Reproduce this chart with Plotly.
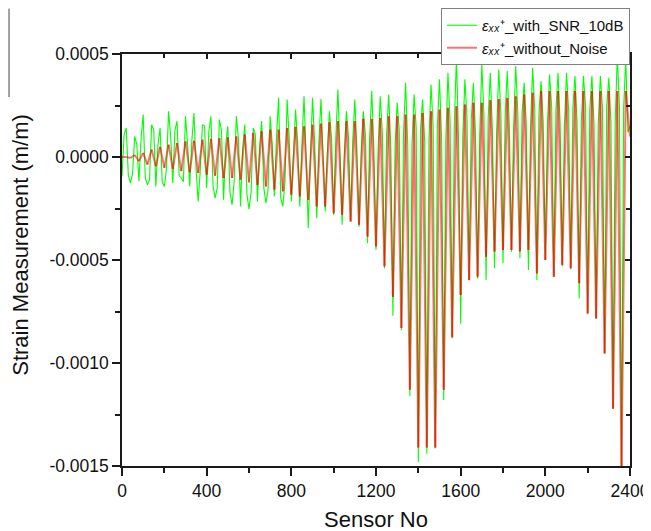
import plotly.graph_objects as go

# ---------------- data ----------------
# Values are in micro-strain (1e-6 m/m); converted to m/m below.
# Noise-free signal: troughs at sensor 40k, peaks at sensor 40k+20
red_trough_ue = [0, -5, -20, -37, -45, -53, -58, -69, -75, -78,
                 -86, -91, -102, -102, -110, -123, -135, -143, -159, -167,
                 -183, -192, -208, -240, -240, -273, -281, -313, -329, -386,
                 -435, -530, -680, -830, -1130, -1410, -1410, -1410, -1130, -875,
                 -670, -597, -581, -484, -459, -451, -451, -459, -451, -565,
                 -500, -581, -524, -540, -613, -760, -784, -954, -1222, -1514,
                 100]
red_peak_ue = [0, 10, 20, 36, 49, 60, 68, 76, 80, 84,
               88, 92, 95, 100, 109, 117, 125, 133, 133, 141,
               146, 149, 157, 162, 169, 174, 174, 174, 185, 185,
               190, 198, 198, 206, 206, 214, 222, 230, 239, 247,
               255, 263, 263, 276, 282, 287, 295, 303, 312, 320,
               320, 320, 320, 320, 320, 320, 320, 320, 320, 320]

# Noisy signal (SNR 10 dB): samples at 40k, 40k+10, 40k+20, 40k+30
green_low_ue = [-94, -127, -118, -135, -143, -143, -127, -102, -143, -216,
                -151, -200, -208, -232, -240, -253, -216, -224, -192, -240,
                -216, -240, -346, -297, -265, -281, -329, -313, -338, -419,
                -450, -540, -770, -840, -1160, -1480, -1440, -1415, -1180, -880,
                -810, -600, -590, -597, -540, -516, -460, -492, -549, -597,
                -500, -581, -530, -545, -687, -760, -784, -954, -1222, -1514,
                150]
green_rise_ue = [110, -80, 90, -110, 60, -60, 130, -120, 80, -60,
                 120, -150, 60, -120, 40, -170, 50, -160, 100, -120,
                 10, 60, -10, 70, 20, 90, 0, 80, 30, 100,
                 40, 110, 50, 120, 60, 130, 80, 150, 90, 160,
                 100, 180, 110, 190, 130, 200, 140, 210, 150, 220,
                 160, 230, 150, 240, 170, 230, 160, 250, 170, 240]
green_high_ue = [141, 100, 206, 157, 141, 222, 174, 198, 214, 157,
                 198, 182, 149, 198, 157, 141, 174, 198, 287, 279,
                 230, 295, 287, 282, 222, 328, 222, 279, 222, 320,
                 295, 303, 263, 360, 303, 279, 352, 377, 409, 482,
                 377, 360, 450, 409, 425, 417, 441, 360, 433, 368,
                 400, 409, 409, 393, 393, 393, 393, 385, 490, 474]
green_fall_ue = [-90, 60, -100, 130, -120, 100, -90, 60, -60, 150,
                 -140, 130, -170, 90, -180, 110, -150, 60, -200, 90,
                 70, 0, 80, 10, 90, 20, 100, 30, 110, 40,
                 120, 50, 130, 60, 140, 80, 150, 90, 170, 100,
                 190, 120, 200, 130, 210, 150, 220, 160, 230, 170,
                 240, 160, 230, 170, 250, 160, 240, 170, 250, 120]

x_tick_vals = [0, 400, 800, 1200, 1600, 2000, 2400]
x_tick_text = ["0", "400", "800", "1200", "1600", "2000", "2400"]
x_minor_vals = [200, 600, 1000, 1400, 1800, 2200]
y_tick_vals = [0.0005, 0.0, -0.0005, -0.0010, -0.0015]
y_tick_text = ["0.0005", "0.0000", "-0.0005", "-0.0010", "-0.0015"]
y_minor_vals = [0.00025, -0.00025, -0.00075, -0.00125]

name_noisy = "<i>εₓₓ</i>⁺_with_SNR_10dB"
name_clean = "<i>εₓₓ</i>⁺_without_Noise"

UE = 1e-6
HALF = 20  # sensors between a trough and the next peak

# ---------------- build series ----------------
green_x = list(range(0, 2401, 10))
green_y = []
for lo, ri, hi, fa in zip(green_low_ue, green_rise_ue, green_high_ue, green_fall_ue):
    green_y += [lo * UE, ri * UE, hi * UE, fa * UE]
green_y.append(green_low_ue[-1] * UE)

# noise-free line split into rising and falling strokes (drawn as two layers)
rise_x, rise_y, fall_x, fall_y = [], [], [], []
for k, p in enumerate(red_peak_ue):
    x0 = 2 * HALF * k
    rise_x += [x0, x0 + HALF, None]
    rise_y += [red_trough_ue[k] * UE, p * UE, None]
    fall_x += [x0 + HALF, x0 + 2 * HALF, None]
    fall_y += [p * UE, red_trough_ue[k + 1] * UE, None]

FONT = "Liberation Sans, Arial, sans-serif"
AX = "#1a1a1a"
RED = "rgba(255,0,0,0.55)"

fig = go.Figure()
fig.add_trace(go.Scatter(x=green_x, y=green_y, mode="lines", name=name_noisy,
                         line=dict(color="rgb(0,255,0)", width=1.1)))
fig.add_trace(go.Scatter(x=rise_x, y=rise_y, mode="lines", name=name_clean,
                         legendgroup="clean", connectgaps=False,
                         line=dict(color=RED, width=2.0)))
fig.add_trace(go.Scatter(x=fall_x, y=fall_y, mode="lines", name=name_clean,
                         legendgroup="clean", showlegend=False, connectgaps=False,
                         line=dict(color=RED, width=2.0)))
# carrier for the mirrored top/right axes
fig.add_trace(go.Scatter(x=[x_tick_vals[0]], y=[y_tick_vals[1]], xaxis="x2", yaxis="y2",
                         mode="markers", marker=dict(opacity=0), showlegend=False,
                         hoverinfo="skip"))

xr = [x_tick_vals[0], x_tick_vals[-1]]
yr = [y_tick_vals[-1], y_tick_vals[0]]

# the page body adds an 8px offset, so the figure is 8px smaller than the window
fig.update_layout(
    width=643, height=523, autosize=False,
    margin=dict(l=114, r=21, t=46, b=65, autoexpand=False),
    paper_bgcolor="white", plot_bgcolor="white",
    font=dict(family=FONT, color="#111"),
    showlegend=True,
    legend=dict(x=1.0, xanchor="right", y=1.1117, yanchor="top",
                bgcolor="white", bordercolor="#7f7f7f", borderwidth=1,
                font=dict(family=FONT, size=15, color="#111"),
                tracegroupgap=0, itemwidth=30),
    xaxis=dict(range=xr, autorange=False, showline=True, linecolor=AX, linewidth=1.5,
               ticks="outside", ticklen=8, tickwidth=1.5, tickcolor=AX,
               tickmode="array", tickvals=x_tick_vals, ticktext=x_tick_text,
               minor=dict(tickmode="array", tickvals=x_minor_vals, ticks="outside",
                          ticklen=5, tickwidth=1.5, tickcolor=AX),
               showgrid=False, zeroline=False,
               tickfont=dict(family=FONT, size=17.5, color="#111")),
    yaxis=dict(range=yr, autorange=False, showline=True, linecolor=AX, linewidth=1.5,
               ticks="outside", ticklen=8, tickwidth=1.5, tickcolor=AX,
               tickmode="array", tickvals=y_tick_vals, ticktext=y_tick_text,
               minor=dict(tickmode="array", tickvals=y_minor_vals, ticks="outside",
                          ticklen=5, tickwidth=1.5, tickcolor=AX),
               showgrid=False, zeroline=False,
               tickfont=dict(family=FONT, size=17.5, color="#111")),
    xaxis2=dict(overlaying="x", side="top", anchor="y", range=xr, autorange=False,
                showline=True, linecolor=AX, linewidth=1.5,
                ticks="inside", ticklen=5, tickwidth=1.5, tickcolor=AX,
                tickmode="array", tickvals=x_tick_vals, showticklabels=False,
                minor=dict(tickmode="array", tickvals=x_minor_vals, ticks="inside",
                           ticklen=4, tickwidth=1.5, tickcolor=AX),
                showgrid=False, zeroline=False),
    yaxis2=dict(overlaying="y", side="right", anchor="x", range=yr, autorange=False,
                showline=True, linecolor=AX, linewidth=1.5,
                ticks="inside", ticklen=5, tickwidth=1.5, tickcolor=AX,
                tickmode="array", tickvals=y_tick_vals, showticklabels=False,
                minor=dict(tickmode="array", tickvals=y_minor_vals, ticks="inside",
                           ticklen=4, tickwidth=1.5, tickcolor=AX),
                showgrid=False, zeroline=False),
    annotations=[
        dict(text="Strain Measurement (m/m)", xref="paper", yref="paper",
             x=-0.2, y=0.538, xanchor="center", yanchor="middle", textangle=-90,
             showarrow=False, font=dict(family=FONT, size=22, color="#111")),
        dict(text="Sensor No", xref="paper", yref="paper",
             x=0.5, y=-0.131, xanchor="center", yanchor="middle",
             showarrow=False, font=dict(family=FONT, size=22, color="#111")),
    ],
    shapes=[dict(type="line", xref="paper", yref="paper",
                 x0=-0.2224, x1=-0.2224, y0=1.11, y1=0.8956,
                 line=dict(color="#444", width=1))],
)

fig.write_html("out.html")
